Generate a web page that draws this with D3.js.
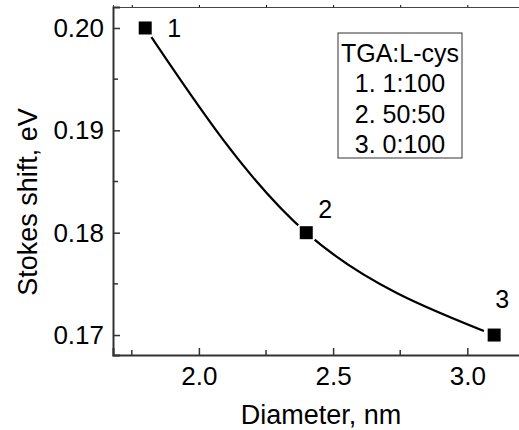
<!DOCTYPE html>
<html>
<head>
<meta charset="utf-8">
<script src="https://cdn.jsdelivr.net/npm/d3@7"></script>
<style>
  html, body { margin: 0; padding: 0; background: #fff; }
  svg { display: block; font-family: "Liberation Sans", Arial, sans-serif; }
</style>
</head>
<body>
<div id="chart"></div>
<script>
// data
const diameters = [1.8, 2.4, 3.1];
const stokesShift = [0.20, 0.18, 0.17];
const pointLabels = ["1", "2", "3"];
const xTicks = [2.0, 2.5, 3.0];
const xMinorTicks = [1.75, 2.25, 2.75];
const yTicks = [0.17, 0.18, 0.19, 0.20];
const yMinorTicks = [0.175, 0.185, 0.195];
const legendLines = ["TGA:L-cys", "1. 1:100", "2. 50:50", "3. 0:100"];

const data = diameters.map((d, i) => ({ x: d, y: stokesShift[i], label: pointLabels[i] }));

const width = 519, height = 430;
const svg = d3.select("#chart").append("svg")
  .attr("width", width).attr("height", height);

const x = d3.scaleLinear().domain([1.68, 3.2]).range([113, 521]);
const y = d3.scaleLinear().domain([0.16805, 0.20205]).range([355, 7]);

// top frame line with small outward ticks
svg.append("g")
  .attr("transform", `translate(0,${y.range()[1]})`)
  .call(d3.axisTop(x).tickValues(xTicks.concat(xMinorTicks)).tickSize(2).tickFormat(""))
  .call(g => g.select(".domain").attr("stroke", "#444").attr("stroke-width", 1));

// bottom axis, ticks inside
const xAxis = svg.append("g")
  .attr("transform", `translate(0,${y.range()[0]})`)
  .call(d3.axisBottom(x).tickValues(xTicks).tickSize(-7).tickPadding(12).tickFormat(d3.format(".1f")));
xAxis.append("g").selectAll("line").data(xMinorTicks).join("line")
  .attr("x1", d => x(d)).attr("x2", d => x(d)).attr("y1", 0).attr("y2", -5)
  .attr("stroke", "#333").attr("stroke-width", 1.5);

// left axis, ticks inside
const yAxis = svg.append("g")
  .attr("transform", `translate(${x.range()[0]},0)`)
  .call(d3.axisLeft(y).tickValues(yTicks).tickSize(-7).tickPadding(9).tickFormat(d3.format(".2f")));
yAxis.append("g").selectAll("line").data(yMinorTicks).join("line")
  .attr("y1", d => y(d)).attr("y2", d => y(d)).attr("x1", 0).attr("x2", 5)
  .attr("stroke", "#333").attr("stroke-width", 1.5);

[xAxis, yAxis].forEach(g => {
  g.attr("font-family", null);
  g.select(".domain").attr("stroke", "#333").attr("stroke-width", 2);
  g.selectAll(".tick line").attr("stroke", "#333").attr("stroke-width", 1.5);
  g.selectAll(".tick text").attr("font-size", 26).attr("fill", "#000");
});
xAxis.selectAll(".tick text").attr("dy", "0.71em");

// axis titles
svg.append("text")
  .attr("x", 321).attr("y", 424)
  .attr("text-anchor", "middle").attr("font-size", 27)
  .text("Diameter, nm");
svg.append("text")
  .attr("transform", "translate(37,202) rotate(-90)")
  .attr("text-anchor", "middle").attr("font-size", 27)
  .text("Stokes shift, eV");

// fitted curve through the points
svg.append("path")
  .datum(data)
  .attr("fill", "none")
  .attr("stroke", "#000")
  .attr("stroke-width", 2.2)
  .attr("d", d3.line().x(d => x(d.x)).y(d => y(d.y)).curve(d3.curveNatural));

// gap around symbols
svg.append("g").selectAll("circle").data(data).join("circle")
  .attr("cx", d => x(d.x)).attr("cy", d => y(d.y)).attr("r", 11)
  .attr("fill", "#fff");

// square symbols
const sq = 13;
svg.append("g").selectAll("rect").data(data).join("rect")
  .attr("x", d => x(d.x) - sq / 2).attr("y", d => y(d.y) - sq / 2)
  .attr("width", sq).attr("height", sq)
  .attr("fill", "#000");

// point numbers
const labelOffset = [[22, 9], [12, -15], [1, -27]];
svg.append("g").selectAll("text").data(data).join("text")
  .attr("x", (d, i) => x(d.x) + labelOffset[i][0])
  .attr("y", (d, i) => y(d.y) + labelOffset[i][1])
  .attr("font-size", 25)
  .text(d => d.label);

// legend box
const legend = svg.append("g");
legend.append("rect")
  .attr("x", 338).attr("y", 33).attr("width", 124).attr("height", 125)
  .attr("fill", "none").attr("stroke", "#333").attr("stroke-width", 1);
legend.selectAll("text").data(legendLines).join("text")
  .attr("x", 400).attr("y", (d, i) => 62 + i * 30.3)
  .attr("text-anchor", "middle").attr("font-size", 25)
  .text(d => d);
</script>
</body>
</html>
